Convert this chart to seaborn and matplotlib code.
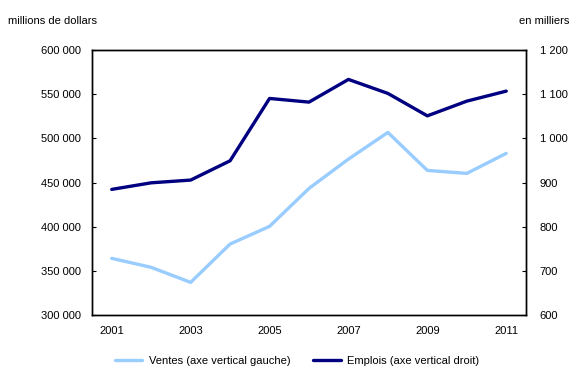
import matplotlib
matplotlib.use("Agg")
import matplotlib.pyplot as plt
import matplotlib.ticker as mticker
import seaborn as sns
import pandas as pd

# data
years = [2001, 2002, 2003, 2004, 2005, 2006, 2007, 2008, 2009, 2010, 2011]
ventes = [364200, 354000, 337000, 380400, 400400, 443400, 476600, 506800, 463800, 460400, 483100]
emplois = [884.6, 899.5, 905.7, 949.4, 1090.6, 1082.3, 1133.7, 1102.0, 1051.2, 1084.5, 1107.2]
year_labels = [2001, 2003, 2005, 2007, 2009, 2011]

df = pd.DataFrame({"annee": years, "ventes": ventes, "emplois": emplois})

sns.set_style("white")
plt.rcParams["font.family"] = ["Liberation Sans", "DejaVu Sans"]
plt.rcParams["text.color"] = "black"
plt.rcParams["xtick.color"] = "black"
plt.rcParams["ytick.color"] = "black"
plt.rcParams["xtick.labelcolor"] = "black"
plt.rcParams["ytick.labelcolor"] = "black"

light = "#99CCFF"
dark = "#000080"

fig = plt.figure(figsize=(5.88, 3.80), dpi=100)
ax = fig.add_axes([0.1565, 0.171, 0.738, 0.697])
ax2 = ax.twinx()

sns.lineplot(data=df, x="annee", y="ventes", ax=ax, color=light, linewidth=2.4,
             label="Ventes (axe vertical gauche)", legend=False)
sns.lineplot(data=df, x="annee", y="emplois", ax=ax2, color=dark, linewidth=2.4,
             label="Emplois (axe vertical droit)", legend=False)

ax.set_xlim(years[0] - 0.5, years[-1] + 0.5)
ax.set_ylim(300000, 600000)
ax2.set_ylim(600, 1200)


def space_fmt(v, pos):
    return f"{int(round(v)):,}".replace(",", " ")


ax.yaxis.set_major_locator(mticker.MultipleLocator(50000))
ax2.yaxis.set_major_locator(mticker.MultipleLocator(100))
ax.yaxis.set_major_formatter(mticker.FuncFormatter(space_fmt))
ax2.yaxis.set_major_formatter(mticker.FuncFormatter(space_fmt))

# tick marks on the category borders, labels on odd years
ax.xaxis.set_major_locator(mticker.FixedLocator([y + 0.5 for y in years[:-1]]))
ax.xaxis.set_major_formatter(mticker.NullFormatter())
ax.xaxis.set_minor_locator(mticker.FixedLocator(year_labels))
ax.xaxis.set_minor_formatter(mticker.FixedFormatter([str(y) for y in year_labels]))
ax.tick_params(axis="x", which="major", direction="in", length=3.5, width=0.8, color="black")
ax.tick_params(axis="x", which="minor", length=0, pad=8, labelsize=8)
ax.tick_params(axis="y", direction="in", length=3, width=0.8, color="black", pad=8, labelsize=8, left=True)
ax2.tick_params(axis="y", direction="in", length=3, width=0.8, color="black", pad=10, labelsize=8, right=True)

ax.set_xlabel("")
ax.set_ylabel("")
ax2.set_ylabel("")

for a in (ax, ax2):
    for s in a.spines.values():
        s.set_visible(True)
        s.set_color("black")
        s.set_linewidth(1.0)

fig.text(0.014, 0.945, "millions de dollars", fontsize=8, ha="left", va="center")
fig.text(0.969, 0.945, "en milliers", fontsize=8, ha="right", va="center")

h1, l1 = ax.get_legend_handles_labels()
h2, l2 = ax2.get_legend_handles_labels()
fig.legend(h1 + h2, l1 + l2, loc="center", bbox_to_anchor=(0.505, 0.05), ncol=2,
           frameon=False, fontsize=8, handlelength=2.5, handletextpad=0.6, columnspacing=2.0)

fig.savefig("out.png", dpi=100)
